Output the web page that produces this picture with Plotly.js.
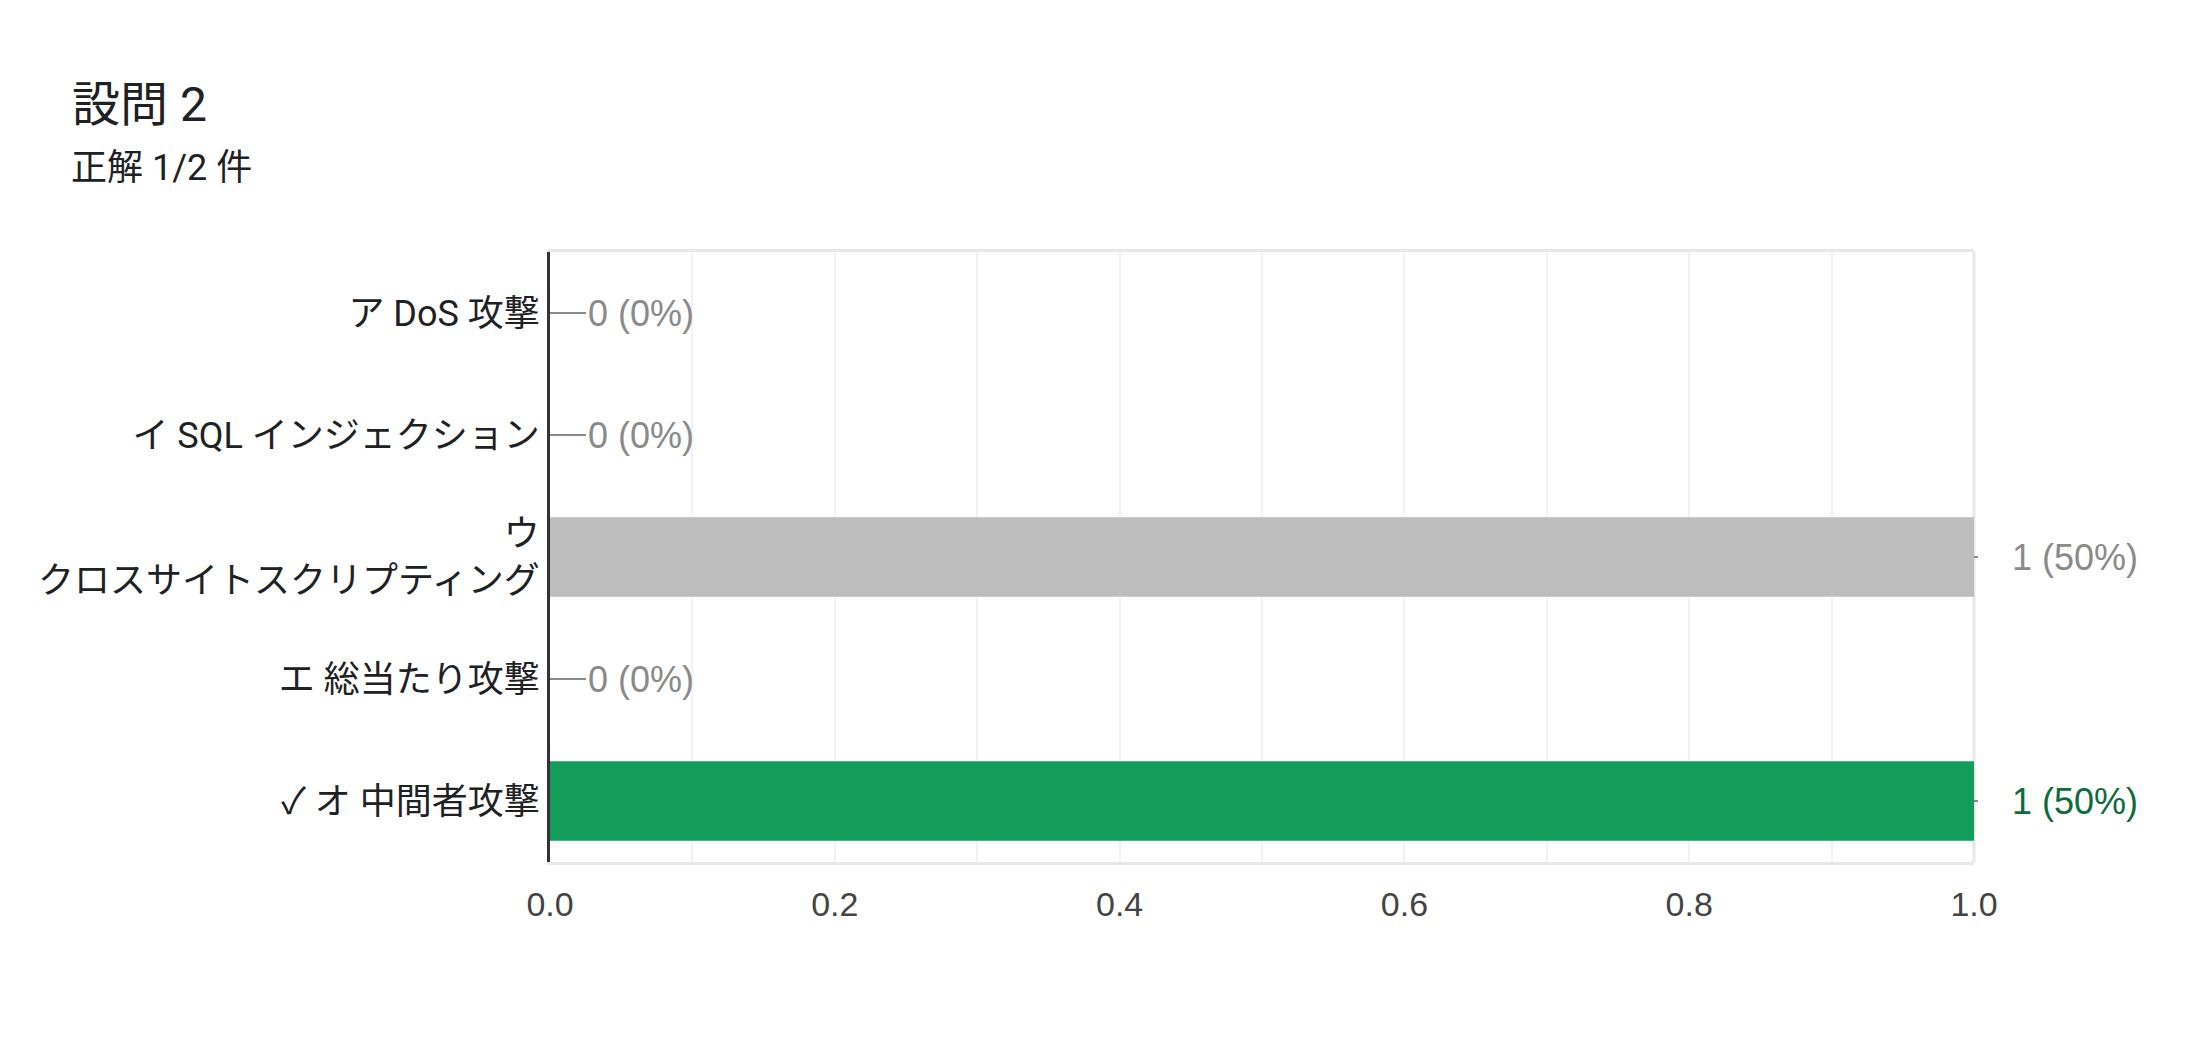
<!DOCTYPE html>
<html>
<head>
<meta charset="utf-8">
<script src="https://cdn.plot.ly/plotly-3.0.1.min.js"></script>
<style>
  html, body { margin: 0; padding: 0; background: #ffffff; }
  #chart { width: 2196px; height: 1044px; }
</style>
</head>
<body>
<div id="chart"></div>
<script>
// ---- data ----
const titleText = '設問 2';
const subtitleText = '正解 1/2 件';
const categories = [
  'ア DoS 攻撃',
  'イ SQL インジェクション',
  'ウ<br>クロスサイトスクリプティング',
  'エ 総当たり攻撃',
  '✓ オ 中間者攻撃'
];
const counts = [0, 0, 1, 0, 1];
const percents = [0, 0, 50, 0, 50];
const isCorrect = [false, false, false, false, true];
const xTickValues = [0, 0.2, 0.4, 0.6, 0.8, 1.0];

// ---- styles ----
const JP = 'Roboto, "Noto Sans CJK JP", sans-serif';
const ARIAL = 'Arial, "Liberation Sans", sans-serif';
const GRAY_BAR = '#bdbdbd';
const GREEN_BAR = '#129e5a';
const GRAY_TEXT = '#8a8a8a';
const GREEN_TEXT = '#0d6b3d';

const barColors = isCorrect.map(c => c ? GREEN_BAR : GRAY_BAR);

const trace = {
  type: 'bar',
  orientation: 'h',
  y: categories,
  x: counts,
  width: 0.65,
  marker: { color: barColors, line: { width: 0 } },
  hoverinfo: 'skip'
};

const annotations = categories.map((cat, i) => {
  const nonzero = counts[i] > 0;
  return {
    x: counts[i],
    y: cat,
    xref: 'x',
    yref: 'y',
    text: counts[i] + ' (' + percents[i] + '%)',
    showarrow: true,
    arrowhead: 0,
    arrowwidth: 2,
    arrowcolor: GRAY_TEXT,
    ax: 36,
    ay: 0,
    startstandoff: nonzero ? 32 : 0,
    xanchor: 'left',
    yanchor: 'middle',
    font: {
      family: ARIAL,
      size: 36,
      color: isCorrect[i] ? GREEN_TEXT : GRAY_TEXT
    }
  };
});

annotations.push({
  xref: 'paper',
  yref: 'paper',
  x: -481 / 1424,
  y: (862 - 168) / 610,
  xanchor: 'left',
  yanchor: 'middle',
  showarrow: false,
  text: subtitleText,
  font: { family: JP, size: 36, color: '#202124' }
});

const layout = {
  width: 2196,
  height: 1044,
  paper_bgcolor: '#ffffff',
  plot_bgcolor: '#ffffff',
  margin: { l: 550, r: 222, t: 252, b: 182, pad: 0 },
  showlegend: false,
  title: {
    text: titleText,
    font: { family: JP, size: 48, color: '#202124' },
    xref: 'container',
    yref: 'container',
    x: 72 / 2196,
    xanchor: 'left',
    y: 1 - 104 / 1044,
    yanchor: 'middle'
  },
  xaxis: {
    range: [0, 1],
    tickvals: xTickValues,
    tickformat: '.1f',
    ticks: '',
    showgrid: true,
    gridcolor: '#f2f2f2',
    gridwidth: 2,
    minor: { dtick: 0.1, tick0: 0, showgrid: true, gridcolor: '#f2f2f2', gridwidth: 2 },
    zeroline: false,
    showline: true,
    linecolor: '#e8e8e8',
    linewidth: 3,
    mirror: true,
    tickfont: { family: ARIAL, size: 34, color: '#444444' },
    ticklabelstandoff: 10,
    fixedrange: true
  },
  yaxis: {
    type: 'category',
    autorange: 'reversed',
    showgrid: false,
    zeroline: false,
    showline: true,
    linecolor: '#333333',
    linewidth: 3,
    ticks: '',
    tickfont: { family: JP, size: 36, color: '#202124' },
    ticklabelstandoff: 0,
    fixedrange: true
  },
  shapes: [{
    type: 'line', xref: 'paper', yref: 'paper',
    x0: 1, x1: 1, y0: 0, y1: 1,
    line: { color: '#e8e8e8', width: 3 },
    layer: 'below'
  }],
  annotations: annotations,
  bargap: 0.35
};

Plotly.newPlot('chart', [trace], layout, { displayModeBar: false, staticPlot: true });
</script>
</body>
</html>
